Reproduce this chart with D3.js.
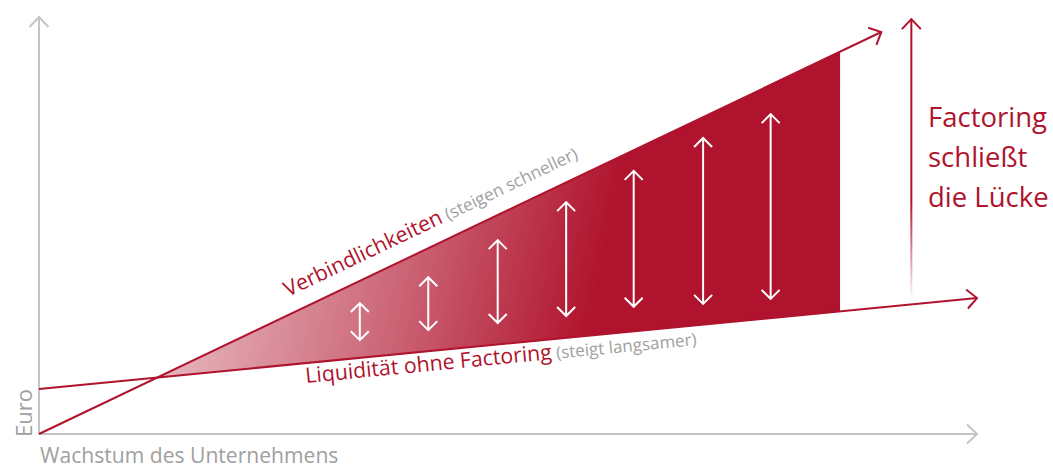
<!DOCTYPE html>
<html><head><meta charset="utf-8">
<script src="https://cdn.jsdelivr.net/npm/d3@7"></script>
<style>body{margin:0;background:#fff}svg{display:block}text{font-family:"Open Sans",Lato,sans-serif}</style>
</head><body><svg id="c" width="1053" height="468"></svg>
<script>
// ---- data ----
const xLabel = "Wachstum des Unternehmens";
const yLabel = "Euro";
const liabilities = [{x:0,y:0},{x:89.8,y:96.4}];           // Verbindlichkeiten
const liquidity   = [{x:0,y:10.8},{x:100,y:32.6}];         // Liquidität ohne Factoring
const gapEndX = 85.4;                                      // fill ends here
const gapArrowX      = [34.2,41.5,48.9,56.2,63.4,70.8,78.0];
const gapArrowTop    = [31.4,37.6,46.5,55.6,63.1,71.0,76.7];
const gapArrowBottom = [22.5,24.9,26.6,28.3,30.5,31.2,32.4];
const closeArrow = {x:93.0, y0:32, y1:99.5};
const closeText = ["Factoring","schließt","die Lücke"];

const RED = "#b0132d", GREY = "#c4c4c4", GTXT = "#a0a0a0";
const svg = d3.select("#c");
const x = d3.scaleLinear().domain([0,100]).range([39,977]);
const y = d3.scaleLinear().domain([0,100]).range([434,17]);
const lineAt = (d,xv)=> d[0].y + (d[1].y-d[0].y)*(xv-d[0].x)/(d[1].x-d[0].x);

const defs = svg.append("defs");
const g1 = defs.append("linearGradient").attr("id","gap").attr("gradientUnits","userSpaceOnUse")
  .attr("x1",170).attr("y1",300).attr("x2",650).attr("y2",400);
g1.append("stop").attr("offset",0).attr("stop-color",RED).attr("stop-opacity",0.3);
g1.append("stop").attr("offset",0.45).attr("stop-color",RED).attr("stop-opacity",0.65);
g1.append("stop").attr("offset",0.85).attr("stop-color",RED).attr("stop-opacity",1);
g1.append("stop").attr("offset",1).attr("stop-color",RED).attr("stop-opacity",1);
const g2 = defs.append("linearGradient").attr("id","fade").attr("gradientUnits","userSpaceOnUse")
  .attr("x1",0).attr("y1",y(closeArrow.y0)).attr("x2",0).attr("y2",y(closeArrow.y1));
g2.append("stop").attr("offset",0).attr("stop-color",RED).attr("stop-opacity",0);
g2.append("stop").attr("offset",0.35).attr("stop-color",RED).attr("stop-opacity",1);
g2.append("stop").attr("offset",1).attr("stop-color",RED).attr("stop-opacity",1);

// crossing point
const xc = (liquidity[0].y - liabilities[0].y) / ((liabilities[1].y-liabilities[0].y)/(liabilities[1].x-liabilities[0].x) - (liquidity[1].y-liquidity[0].y)/(liquidity[1].x-liquidity[0].x));
const poly = [[xc,lineAt(liabilities,xc)],[gapEndX,lineAt(liabilities,gapEndX)],[gapEndX,lineAt(liquidity,gapEndX)]];
svg.append("path").attr("d", d3.line().x(d=>x(d[0])).y(d=>y(d[1]))(poly)+"Z").attr("fill","url(#gap)");

// axes
const chev = (tx,ty,ang,len,w)=>{
  const bx = tx - len*Math.cos(ang), by = ty - len*Math.sin(ang);
  const px = -Math.sin(ang)*w, py = Math.cos(ang)*w;
  return `M${bx+px},${by+py}L${tx},${ty}L${bx-px},${by-py}`;
};
svg.append("path").attr("d",`M${x(0)},${y(0)}L${x(0)},${y(100)}`).attr("stroke",GREY).attr("stroke-width",2).attr("fill","none");
svg.append("path").attr("d",chev(x(0),y(100),-Math.PI/2,10,9.5)).attr("stroke",GREY).attr("stroke-width",2).attr("fill","none");
svg.append("path").attr("d",`M${x(0)},${y(0)}L${x(100)},${y(0)}`).attr("stroke",GREY).attr("stroke-width",2).attr("fill","none");
svg.append("path").attr("d",chev(x(100),y(0),0,10,9.5)).attr("stroke",GREY).attr("stroke-width",2).attr("fill","none");

// lines
[liabilities, liquidity].forEach(d=>{
  svg.append("path").attr("d",d3.line().x(p=>x(p.x)).y(p=>y(p.y))(d)).attr("stroke",RED).attr("stroke-width",2).attr("fill","none");
  const a = Math.atan2(y(d[1].y)-y(d[0].y), x(d[1].x)-x(d[0].x));
  svg.append("path").attr("d",chev(x(d[1].x),y(d[1].y),a,10,9.5)).attr("stroke",RED).attr("stroke-width",2).attr("fill","none");
});

// gap arrows
gapArrowX.forEach((xv,i)=>{
  const X = x(xv), T = y(gapArrowTop[i]), B = y(gapArrowBottom[i]);
  svg.append("path").attr("d",`M${X},${T}L${X},${B}`+chev(X,T,-Math.PI/2,9,9)+chev(X,B,Math.PI/2,9,9))
    .attr("stroke","#fff").attr("stroke-width",2).attr("fill","none");
});

// closing arrow
const CX = x(closeArrow.x);
svg.append("rect").attr("x",CX-1).attr("y",y(closeArrow.y1)).attr("width",2).attr("height",y(closeArrow.y0)-y(closeArrow.y1)).attr("fill","url(#fade)");
svg.append("path").attr("d",chev(CX,y(closeArrow.y1),-Math.PI/2,10,9.5)).attr("stroke",RED).attr("stroke-width",2).attr("fill","none");
const ct = svg.append("text").attr("x",928).attr("y",127).attr("fill",RED).attr("font-size",27.5);
closeText.forEach((t,i)=>ct.append("tspan").attr("x",928).attr("dy",i?40:0).text(t));

// line labels
const angL = Math.atan2(y(liabilities[1].y)-y(liabilities[0].y), x(liabilities[1].x)-x(liabilities[0].x))*180/Math.PI;
const t1 = svg.append("text").attr("transform",`translate(288,297) rotate(${angL})`).attr("font-size",21.3).attr("fill",RED);
t1.append("tspan").text("Verbindlichkeiten");
t1.append("tspan").attr("fill",GTXT).attr("font-size",17.2).text(" (steigen schneller)");
const angQ = Math.atan2(y(liquidity[1].y)-y(liquidity[0].y), x(liquidity[1].x)-x(liquidity[0].x))*180/Math.PI;
const t2 = svg.append("text").attr("transform",`translate(306,383) rotate(${angQ})`).attr("font-size",21.3).attr("fill",RED);
t2.append("tspan").text("Liquidität ohne Factoring");
t2.append("tspan").attr("fill",GTXT).attr("font-size",17).text(" (steigt langsamer)");

// axis labels
svg.append("text").attr("x",40).attr("y",463).attr("font-size",21.1).attr("fill",GTXT).text(xLabel);
svg.append("text").attr("transform","translate(32,437) rotate(-90)").attr("font-size",22).attr("fill",GTXT).text(yLabel);
</script></body></html>
